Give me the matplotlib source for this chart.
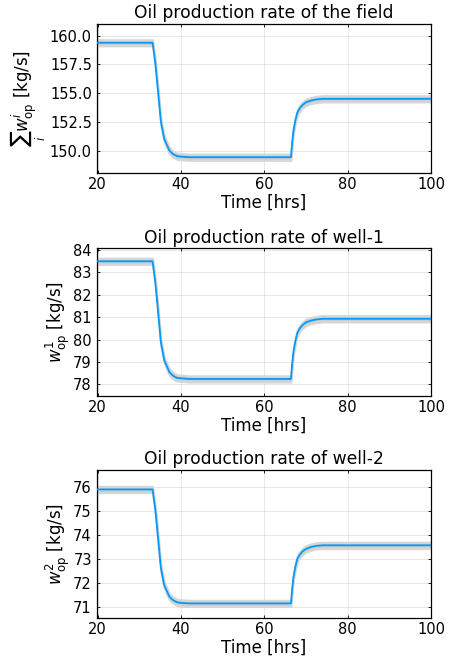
import numpy as np
import matplotlib.pyplot as plt

# time samples [hrs]
t = [19.8, 33.2, 33.5, 33.9, 34.55, 35.2, 36.0, 37.2, 38.0, 39.0, 40.0, 42.0,
     66.4, 66.7, 67.0, 67.4, 67.9, 68.5, 69.2, 70.0, 71.2, 72.5, 74.0, 100.0]

# field total
w_field = [159.37, 159.37, 158.60, 157.48, 155.00, 152.51, 151.02, 150.03, 149.73, 149.53, 149.48, 149.43,
           149.43, 150.70, 151.71, 152.52, 153.28, 153.69, 153.97, 154.20, 154.35, 154.45, 154.50, 154.50]
# well 1
w_well1 = [83.50, 83.50, 83.08, 82.50, 81.19, 79.87, 79.08, 78.56, 78.40, 78.29, 78.27, 78.24,
           78.24, 78.91, 79.45, 79.88, 80.28, 80.50, 80.65, 80.77, 80.85, 80.90, 80.93, 80.93]
# well 2
w_well2 = [75.89, 75.89, 75.51, 74.99, 73.80, 72.61, 71.90, 71.43, 71.29, 71.19, 71.16, 71.14,
           71.14, 71.75, 72.23, 72.62, 72.98, 73.17, 73.31, 73.41, 73.49, 73.54, 73.56, 73.56]

# ribbon half width [kg/s]
band = [0.27, 0.14, 0.13]

titles = ["Oil production rate of the field",
          "Oil production rate of well-1",
          "Oil production rate of well-2"]
ylabels = [r"$\sum_i w^i_{\rm op}$ [kg/s]",
           r"$w^1_{\rm op}$ [kg/s]",
           r"$w^2_{\rm op}$ [kg/s]"]
ylims = [(148.06, 161.0), (77.49, 84.08), (70.52, 76.7)]
yticks = [[150.0, 152.5, 155.0, 157.5, 160.0],
          [78, 79, 80, 81, 82, 83, 84],
          [71, 72, 73, 74, 75, 76]]
yfmt = ["%.1f", "%d", "%d"]

series = [w_field, w_well1, w_well2]

fig = plt.figure(figsize=(4.49, 6.59), dpi=100)
rects = [[0.2154, 0.7375, 0.7445, 0.2261],
         [0.2154, 0.3995, 0.7445, 0.2237],
         [0.2154, 0.0618, 0.7445, 0.2250]]

tt = np.array(t)
for k in range(3):
    ax = fig.add_axes(rects[k])
    y = np.array(series[k])
    ax.fill_between(tt, y - band[k], y + band[k], color="#cfcfcf", lw=1.5,
                    edgecolor="#d6d6d6", zorder=2)
    ax.plot(tt, y, color="#009afa", lw=1.3, zorder=3)
    ax.set_xlim(19.8, 100)
    ax.set_ylim(*ylims[k])
    ax.set_xticks([20, 40, 60, 80, 100])
    ax.set_yticks(yticks[k])
    ax.set_yticklabels([yfmt[k] % v for v in yticks[k]])
    ax.grid(True, color="black", alpha=0.1, lw=0.6)
    ax.tick_params(direction="in", length=2.5, width=0.6, labelsize=10.5,
                   top=True, right=True)
    ax.tick_params(axis="y", pad=3.5)
    ax.tick_params(axis="x", pad=3)
    for s in ax.spines.values():
        s.set_linewidth(0.9)
    ax.set_title(titles[k], fontsize=12.3, pad=4)
    ax.set_xlabel("Time [hrs]", fontsize=12, labelpad=1)
    ax.set_ylabel(ylabels[k], fontsize=12, labelpad=1)

fig.savefig("out.png", dpi=100)
